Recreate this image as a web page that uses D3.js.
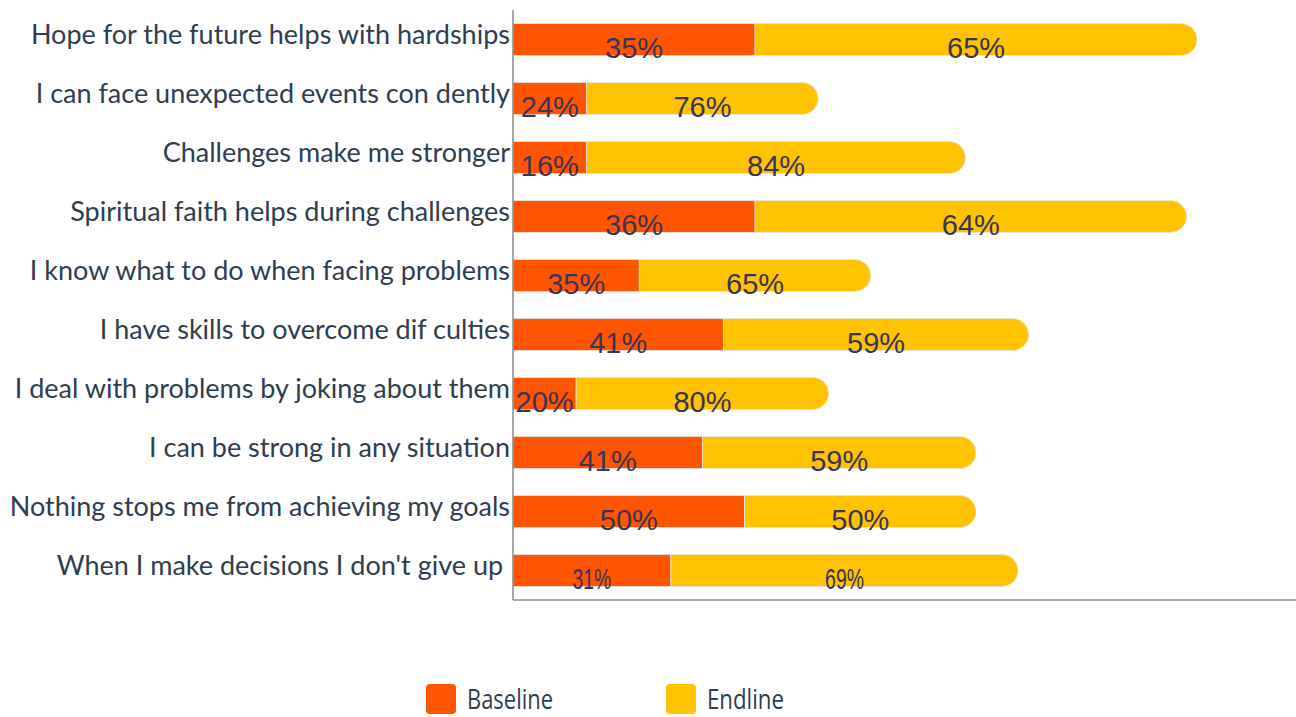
<!DOCTYPE html>
<html>
<head>
<meta charset="utf-8">
<script src="https://cdn.jsdelivr.net/npm/d3@7"></script>
<style>
  body { margin: 0; background: #fff; }
  svg { display: block; }
</style>
</head>
<body>
<div id="chart"></div>
<script>
// chart data, counts
const categories = [
    "Hope for the future helps with hardships",
    "I can face unexpected events con dently",
    "Challenges make me stronger",
    "Spiritual faith helps during challenges",
    "I know what to do when facing problems",
    "I have skills to overcome dif culties",
    "I deal with problems by joking about them",
    "I can be strong in any situation",
    "Nothing stops me from achieving my goals",
    "When I make decisions I don't give up "
];
const baseline = [23, 7, 7, 23, 12, 20, 6, 18, 22, 15];
const endline = [42, 22, 36, 41, 22, 29, 24, 26, 22, 33];
const seriesNames = ["Baseline", "Endline"];

const WIDTH = 1296, HEIGHT = 717;
const BASE_COLOR = '#ff5400';
const END_COLOR = '#ffc300';
const LABEL_COLOR = '#2e3d4f';
const PCT_COLOR = '#3c3358';

const svg = d3.select("#chart")
    .append("svg")
    .attr("width", WIDTH)
    .attr("height", HEIGHT);

let x = d3.scaleLinear()
    .domain([0, 74.4])
    .range([513, 1296]);

let y = d3.scaleBand()
    .domain(categories)
    .range([10, 600])
    .paddingInner(0.458)
    .paddingOuter(0.229);

const bw = y.bandwidth();

let rows = categories.map(function(c, i) {
    let total = baseline[i] + endline[i];
    return {
        cat: c, idx: i,
        b: baseline[i], e: endline[i],
        bp: Math.round(baseline[i] / total * 100),
        ep: Math.round(endline[i] / total * 100)
    };
});

// baseline segments
svg.selectAll("rect.base").data(rows).enter()
    .append("rect")
    .attr("class", "base")
    .attr("x", x(0))
    .attr("y", d => y(d.cat))
    .attr("width", d => x(d.b) - x(0))
    .attr("height", bw)
    .attr("fill", BASE_COLOR)
    .attr("stroke", "#e4e4e4")
    .attr("stroke-width", 0.8);

// endline segments, rounded on the right end
function endPath(d) {
    let x0 = x(d.b), x1 = x(d.b + d.e), y0 = y(d.cat), r = bw / 2;
    return `M${x0},${y0} L${x1 - r},${y0} A${r},${r} 0 0 1 ${x1 - r},${y0 + bw} L${x0},${y0 + bw} Z`;
}
svg.selectAll("path.end").data(rows).enter()
    .append("path")
    .attr("class", "end")
    .attr("d", endPath)
    .attr("fill", END_COLOR)
    .attr("stroke", "#e4e4e4")
    .attr("stroke-width", 0.8);

// percent labels
function pctLabel(sel, cx, txt) {
    sel.append("text")
        .attr("transform", d => {
            let t = `translate(${cx(d)}, ${y(d.cat) + bw + 3})`;
            if (d.idx === categories.length - 1) t += " scale(0.67,1)";
            return t;
        })
        .attr("text-anchor", "middle")
        .style("font-family", "'Liberation Sans', Arial, sans-serif")
        .style("font-size", "29px")
        .style("fill", PCT_COLOR)
        .text(txt);
}
let lbl = svg.selectAll("g.lbl").data(rows).enter().append("g").attr("class", "lbl");
pctLabel(lbl, d => (x(0) + x(d.b)) / 2, d => d.bp + "%");
pctLabel(lbl, d => (x(d.b) + x(d.b + d.e)) / 2, d => d.ep + "%");

// category labels
svg.selectAll("text.cat").data(rows).enter()
    .append("text")
    .attr("class", "cat")
    .attr("x", 510)
    .attr("y", d => y(d.cat) + 20)
    .attr("text-anchor", "end")
    .style("white-space", "pre")
    .style("font-family", "Lato, sans-serif")
    .style("font-size", "27px")
    .style("fill", LABEL_COLOR)
    .text(d => d.cat);

// axis lines
svg.append("line")
    .attr("x1", 513).attr("x2", 513)
    .attr("y1", 10).attr("y2", 600)
    .attr("stroke", "#8a8a8a").attr("stroke-width", 1.5);
svg.append("line")
    .attr("x1", 513).attr("x2", WIDTH)
    .attr("y1", 600).attr("y2", 600)
    .attr("stroke", "#8a8a8a").attr("stroke-width", 1.5);

// legend
const legendX = [426, 666];
const legendColors = [BASE_COLOR, END_COLOR];
const legendLen = [86, 77];
let leg = svg.selectAll("g.leg").data(seriesNames).enter()
    .append("g")
    .attr("class", "leg")
    .attr("transform", (d, i) => `translate(${legendX[i]}, 684)`);
leg.append("rect")
    .attr("width", 30).attr("height", 30)
    .attr("rx", 4)
    .attr("fill", (d, i) => legendColors[i]);
leg.append("text")
    .attr("x", 41)
    .attr("y", 25)
    .attr("textLength", (d, i) => legendLen[i])
    .attr("lengthAdjust", "spacingAndGlyphs")
    .style("font-family", "'Open Sans', sans-serif")
    .style("font-size", "27px")
    .style("fill", LABEL_COLOR)
    .text(d => d);
</script>
</body>
</html>
